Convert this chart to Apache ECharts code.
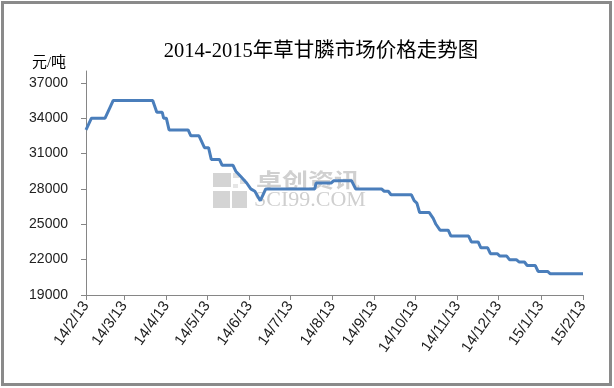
<!DOCTYPE html>
<html>
<head>
<meta charset="utf-8">
<script src="https://cdn.jsdelivr.net/npm/echarts@6/dist/echarts.min.js"></script>
<style>html,body{margin:0;padding:0;background:#fff;}#c{width:614px;height:388px;}</style>
</head>
<body>
<div id="c"></div>
<script>
const titleText = '2014-2015年草甘膦市场价格走势图';
const unitText = '元/吨';
const dates = [
  '2014-02-13','2014-02-17','2014-02-27','2014-03-03','2014-03-05','2014-04-03','2014-04-06','2014-04-10','2014-04-11','2014-04-13',
  '2014-04-15','2014-04-29','2014-05-01','2014-05-07','2014-05-11','2014-05-14','2014-05-16','2014-05-22','2014-05-24','2014-06-01',
  '2014-06-03','2014-06-04','2014-06-07','2014-06-11','2014-06-14','2014-06-17','2014-06-21','2014-06-23','2014-06-25','2014-07-31',
  '2014-08-01','2014-08-12','2014-08-14','2014-08-27','2014-08-30','2014-09-18','2014-09-20','2014-09-23','2014-09-25','2014-10-10',
  '2014-10-12','2014-10-14','2014-10-16','2014-10-23','2014-10-26','2014-10-28','2014-10-31','2014-11-06','2014-11-08','2014-11-21',
  '2014-11-23','2014-11-28','2014-11-30','2014-12-05','2014-12-07','2014-12-12','2014-12-14','2014-12-19','2014-12-21','2014-12-26',
  '2014-12-28','2015-01-01','2015-01-03','2015-01-09','2015-01-11','2015-01-18','2015-01-20','2015-02-13'
];
const prices = [
  33000,34000,34000,35000,35500,35500,34500,34500,34000,34000,
  33000,33000,32500,32500,31500,31500,30500,30500,30000,30000,
  29500,29500,29000,28500,28000,27800,27000,27500,28000,28000,
  28500,28500,28700,28700,28000,28000,27800,27800,27500,27500,
  27000,26800,26000,26000,25500,25000,24500,24500,24000,24000,
  23500,23500,23000,23000,22500,22500,22300,22300,22000,22000,
  21800,21800,21500,21500,21000,21000,20800,20800
];
const xTickDates = ['2014-02-13','2014-03-13','2014-04-13','2014-05-13','2014-06-13','2014-07-13','2014-08-13',
  '2014-09-13','2014-10-13','2014-11-13','2014-12-13','2015-01-13','2015-02-13'];
const yTicks = [19000,22000,25000,28000,31000,34000,37000];

function ts(s){const p=s.split('-').map(Number);return Date.UTC(p[0],p[1]-1,p[2]);}
function fmt(v){const d=new Date(v);return String(d.getUTCFullYear()%100)+'/'+(d.getUTCMonth()+1)+'/'+d.getUTCDate();}

const chart = echarts.init(document.getElementById('c'), null, {renderer:'canvas'});
const axisColor = '#868686';
chart.setOption({
  animation:false,
  backgroundColor:'#fff',
  title:{text:titleText,left:316,textAlign:'center',top:36,
    textStyle:{fontFamily:'Liberation Serif, Noto Sans CJK SC',fontSize:20.5,fontWeight:'normal',color:'#000'}},
  graphic:[
    {type:'rect',shape:{x:2.5,y:2.5,width:608,height:382},style:{fill:'none',stroke:'#8a8a8a',lineWidth:3},silent:true,z:0},
    {type:'text',x:49,y:63,style:{text:unitText,fontFamily:'Liberation Serif, Noto Sans CJK SC',fontSize:15,fill:'#000',align:'center',verticalAlign:'middle'},z:1},
    {type:'group',z:0,children:[
      {type:'rect',shape:{x:213,y:173,width:18,height:14},style:{fill:'#d4d4d4'}},
      {type:'rect',shape:{x:233,y:173,width:6,height:5},style:{fill:'#e0e0e0'}},
      {type:'rect',shape:{x:240,y:179,width:6,height:5},style:{fill:'#e0e0e0'}},
      {type:'rect',shape:{x:233,y:184,width:5,height:4},style:{fill:'#e6e6e6'}},
      {type:'rect',shape:{x:213,y:191,width:17,height:17},style:{fill:'#d4d4d4'}},
      {type:'rect',shape:{x:232,y:191,width:15,height:17},style:{fill:'#d4d4d4'}},
      {type:'text',x:256,y:180,scaleX:1.3,style:{text:'卓创资讯',fontFamily:'Noto Sans CJK SC',fontWeight:'bold',fontSize:20,fill:'#d0d0d0',verticalAlign:'middle'}},
      {type:'text',x:254,y:200,style:{text:'SCI99.COM',fontFamily:'Liberation Serif',fontSize:22,fill:'#cfcfcf',verticalAlign:'middle'}}
    ]}
  ],
  grid:{left:86,right:31,top:71,bottom:93,containLabel:false},
  xAxis:{
    type:'value',min:ts('2014-02-13'),max:ts('2015-02-13'),
    axisLine:{show:true,lineStyle:{color:axisColor,width:1}},
    axisTick:{show:true,length:5,customValues:xTickDates.map(ts),lineStyle:{color:axisColor}},
    axisLabel:{customValues:xTickDates.map(ts),formatter:fmt,rotate:55,margin:8,
      fontFamily:'Liberation Sans',fontSize:15,color:'#222'},
    splitLine:{show:false}
  },
  yAxis:{
    type:'value',min:19000,max:38000,
    axisLine:{show:true,lineStyle:{color:axisColor,width:1}},
    axisTick:{show:true,length:5,customValues:yTicks,lineStyle:{color:axisColor}},
    axisLabel:{customValues:yTicks,formatter:v=>String(v),margin:18,fontFamily:'Liberation Sans',fontSize:14,color:'#222'},
    splitLine:{show:false}
  },
  series:[{
    type:'line',
    data:dates.map((d,i)=>[ts(d),prices[i]]),
    symbol:'none',
    lineStyle:{color:'#4a7ebb',width:3},
    itemStyle:{color:'#4a7ebb'},
    z:5
  }]
});
</script>
</body>
</html>
